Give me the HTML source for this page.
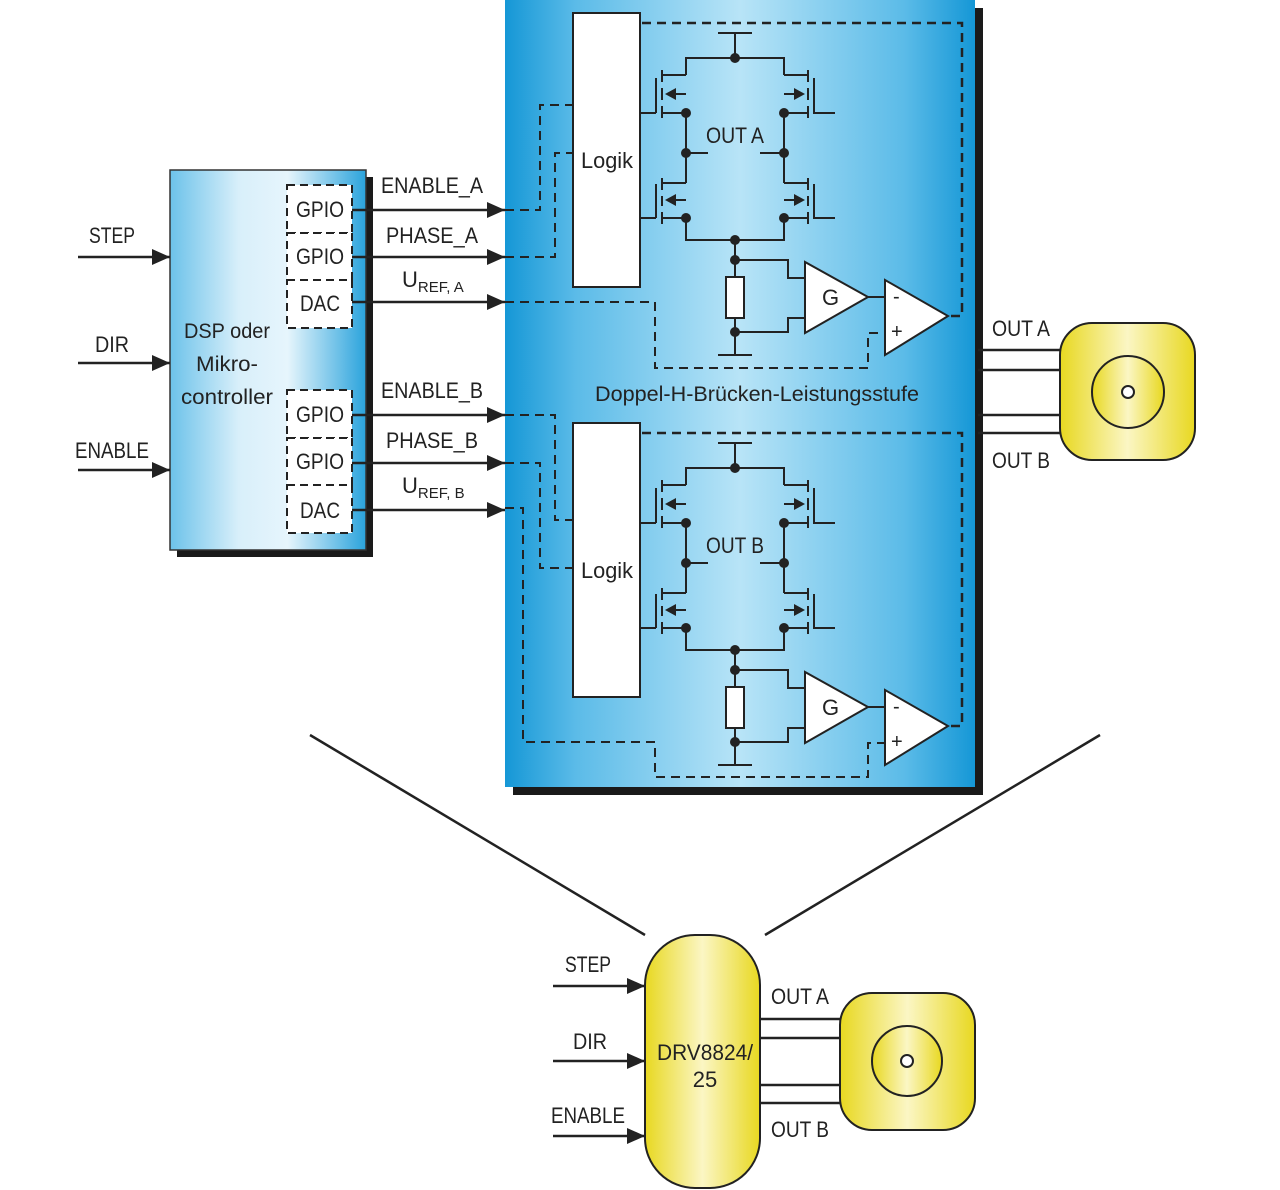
<!DOCTYPE html>
<html><head><meta charset="utf-8"><style>
html,body{margin:0;padding:0;background:#fff;width:1280px;height:1190px;overflow:hidden}
svg{display:block}
text{font-family:"Liberation Sans Narrow","Liberation Sans",sans-serif;fill:#222}
</style></head><body>
<svg width="1280" height="1190" viewBox="0 0 1280 1190" xmlns="http://www.w3.org/2000/svg">
<defs>
<linearGradient id="bl" x1="0" x2="1" y1="0" y2="0">
<stop offset="0" stop-color="#1597d6"/><stop offset="0.15" stop-color="#5bbbe8"/><stop offset="0.5" stop-color="#b8e4f7"/><stop offset="0.85" stop-color="#5bbbe8"/><stop offset="1" stop-color="#1597d6"/></linearGradient>
<linearGradient id="dsp" x1="0" x2="1" y1="0" y2="0">
<stop offset="0" stop-color="#6cc2ea"/><stop offset="0.35" stop-color="#d8effa"/><stop offset="0.6" stop-color="#e6f5fc"/><stop offset="1" stop-color="#2aa3dc"/></linearGradient>
<linearGradient id="ye" x1="0" x2="1" y1="0" y2="0">
<stop offset="0" stop-color="#e8d820"/><stop offset="0.5" stop-color="#fbf6c4"/><stop offset="1" stop-color="#e8d820"/></linearGradient>
<marker id="ar" markerWidth="18" markerHeight="16" refX="18" refY="8" orient="auto" markerUnits="userSpaceOnUse" viewBox="0 0 18 16"><path d="M0,0 L18,8 L0,16 z" fill="#222"/></marker>
<g id="ch">
<rect x="573" y="13" width="67" height="274" fill="#fff" stroke="#222" stroke-width="2"/>
<text x="607" y="168" font-size="22" text-anchor="middle" textLength="52" lengthAdjust="spacingAndGlyphs">Logik</text>
<g fill="none" stroke="#222" stroke-width="2">
<path d="M718,33 H752 M735,33 V58 M686,75 V58 H784 V75"/>
<path d="M686,75 H662 M686,113 H662 M662,70 V82 M662,88 V100 M662,106 V118 M656,78 V113 M640,113 H656"/>
<path d="M784,75 H808 M784,113 H808 M808,70 V82 M808,88 V100 M808,106 V118 M814,78 V113 H835"/>
<path d="M686,94 H672 M784,94 H798"/>
<path d="M686,113 V183 M784,113 V183 M686,153 H708 M760,153 H784"/>
<path d="M686,183 H662 M686,218 H662 M662,178 V190 M662,196 V206 M662,212 V224 M656,184 V218 M640,218 H656"/>
<path d="M784,183 H808 M784,218 H808 M808,178 V190 M808,196 V206 M808,212 V224 M814,184 V218 H835"/>
<path d="M686,200 H672 M784,200 H798"/>
<path d="M686,218 V240 H784 V218 M735,240 V277 M735,260 H788 V278 H805"/>
<rect x="726" y="277" width="18" height="41" fill="#fff"/>
<path d="M735,318 V355 M718,355 H752 M735,332 H788 V318 H805"/>
<path d="M805,262 L805,333 L868,297 Z M885,280 L885,355 L948,316 Z" fill="#fff"/>
<path d="M868,297 H885"/>
<path d="M642,23 H962 V316 H948" stroke-dasharray="9,6" stroke-width="2.5"/>
</g>
<path d="M665,94 l11,-6 v12z M665,200 l11,-6 v12z M805,94 l-11,-6 v12z M805,200 l-11,-6 v12z" fill="#222"/>
<g fill="#222"><circle cx="735" cy="58" r="5"/><circle cx="686" cy="113" r="5"/><circle cx="784" cy="113" r="5"/><circle cx="686" cy="153" r="5"/><circle cx="784" cy="153" r="5"/><circle cx="686" cy="218" r="5"/><circle cx="784" cy="218" r="5"/><circle cx="735" cy="240" r="5"/><circle cx="735" cy="260" r="5"/><circle cx="735" cy="332" r="5"/></g>
<text x="822" y="305" font-size="22">G</text>
<text x="893" y="303" font-size="20">-</text>
<text x="891" y="338" font-size="20">+</text>
</g>
</defs>

<!-- blue block -->
<rect x="513" y="8" width="470" height="787" fill="#1a1a1a"/>
<rect x="505" y="0" width="470" height="787" fill="url(#bl)"/>
<use href="#ch"/>
<use href="#ch" transform="translate(0,410)"/>
<text x="735" y="143" font-size="22" text-anchor="middle" textLength="58" lengthAdjust="spacingAndGlyphs">OUT A</text>
<text x="735" y="553" font-size="22" text-anchor="middle" textLength="58" lengthAdjust="spacingAndGlyphs">OUT B</text>
<text x="757" y="401" font-size="21" text-anchor="middle" textLength="324" lengthAdjust="spacingAndGlyphs">Doppel-H-Brücken-Leistungsstufe</text>

<!-- channel input dashed -->
<g fill="none" stroke="#222" stroke-width="2" stroke-dasharray="9,6">
<path d="M505,210 H540 V105 H573"/>
<path d="M505,257 H555 V153 H573"/>
<path d="M505,302 H655 V368 H868 V333 H885"/>
<path d="M505,415 H555 V520 H573"/>
<path d="M505,463 H540 V568 H573"/>
<path d="M505,508 H523 V742 H655 V777 H868 V743 H885"/>
</g>

<!-- DSP -->
<rect x="177" y="177" width="196" height="380" fill="#1a1a1a"/>
<rect x="170" y="170" width="196" height="380" fill="url(#dsp)" stroke="#333" stroke-width="1.5"/>
<g font-size="21" text-anchor="middle" lengthAdjust="spacingAndGlyphs">
<text x="227" y="338" textLength="86" lengthAdjust="spacingAndGlyphs">DSP oder</text>
<text x="227" y="371" textLength="62" lengthAdjust="spacingAndGlyphs">Mikro-</text>
<text x="227" y="404" textLength="92" lengthAdjust="spacingAndGlyphs">controller</text>
</g>
<g fill="#fff" stroke="#222" stroke-width="2" stroke-dasharray="8,5">
<rect x="287" y="185" width="65" height="48"/><rect x="287" y="233" width="65" height="47"/><rect x="287" y="280" width="65" height="48"/>
<rect x="287" y="390" width="65" height="48"/><rect x="287" y="438" width="65" height="47"/><rect x="287" y="485" width="65" height="48"/>
</g>
<g font-size="22" text-anchor="middle">
<text x="320" y="217" textLength="48" lengthAdjust="spacingAndGlyphs">GPIO</text><text x="320" y="264" textLength="48" lengthAdjust="spacingAndGlyphs">GPIO</text><text x="320" y="311" textLength="40" lengthAdjust="spacingAndGlyphs">DAC</text>
<text x="320" y="422" textLength="48" lengthAdjust="spacingAndGlyphs">GPIO</text><text x="320" y="469" textLength="48" lengthAdjust="spacingAndGlyphs">GPIO</text><text x="320" y="518" textLength="40" lengthAdjust="spacingAndGlyphs">DAC</text>
</g>
<g stroke="#222" stroke-width="2.5" marker-end="url(#ar)">
<line x1="352" y1="210" x2="505" y2="210"/><line x1="352" y1="257" x2="505" y2="257"/><line x1="352" y1="302" x2="505" y2="302"/>
<line x1="352" y1="415" x2="505" y2="415"/><line x1="352" y1="463" x2="505" y2="463"/><line x1="352" y1="510" x2="505" y2="510"/>
<line x1="78" y1="257" x2="170" y2="257"/><line x1="78" y1="363" x2="170" y2="363"/><line x1="78" y1="470" x2="170" y2="470"/>
</g>
<g font-size="22" text-anchor="middle">
<text x="432" y="193" textLength="102" lengthAdjust="spacingAndGlyphs">ENABLE_A</text><text x="432" y="243" textLength="92" lengthAdjust="spacingAndGlyphs">PHASE_A</text>
<text x="432" y="398" textLength="102" lengthAdjust="spacingAndGlyphs">ENABLE_B</text><text x="432" y="448" textLength="92" lengthAdjust="spacingAndGlyphs">PHASE_B</text>
<text x="112" y="243" textLength="46" lengthAdjust="spacingAndGlyphs">STEP</text><text x="112" y="352" textLength="34" lengthAdjust="spacingAndGlyphs">DIR</text><text x="112" y="458" textLength="74" lengthAdjust="spacingAndGlyphs">ENABLE</text>
</g>
<text x="402" y="287" font-size="22">U<tspan font-size="15" dy="5">REF, A</tspan></text>
<text x="402" y="493" font-size="22">U<tspan font-size="15" dy="5">REF, B</tspan></text>

<!-- motor top -->
<g stroke="#222" stroke-width="2.5">
<line x1="978" y1="350" x2="1060" y2="350"/><line x1="978" y1="370" x2="1060" y2="370"/>
<line x1="978" y1="415" x2="1060" y2="415"/><line x1="978" y1="433" x2="1060" y2="433"/>
</g>
<rect x="1060" y="323" width="135" height="137" rx="32" fill="url(#ye)" stroke="#222" stroke-width="2"/>
<circle cx="1128" cy="392" r="36" fill="url(#ye)" stroke="#222" stroke-width="2"/>
<circle cx="1128" cy="392" r="6" fill="#fff" stroke="#222" stroke-width="2"/>
<text x="1021" y="336" font-size="22" text-anchor="middle" textLength="58" lengthAdjust="spacingAndGlyphs">OUT A</text>
<text x="1021" y="468" font-size="22" text-anchor="middle" textLength="58" lengthAdjust="spacingAndGlyphs">OUT B</text>

<!-- funnel lines -->
<g stroke="#222" stroke-width="2.5">
<line x1="310" y1="735" x2="645" y2="935"/><line x1="1100" y1="735" x2="765" y2="935"/>
</g>

<!-- bottom -->
<rect x="645" y="935" width="115" height="253" rx="50" fill="url(#ye)" stroke="#222" stroke-width="2"/>
<text x="705" y="1060" font-size="22" text-anchor="middle" textLength="96" lengthAdjust="spacingAndGlyphs">DRV8824/</text>
<text x="705" y="1087" font-size="22" text-anchor="middle">25</text>
<g stroke="#222" stroke-width="2.5" marker-end="url(#ar)">
<line x1="553" y1="986" x2="645" y2="986"/><line x1="553" y1="1061" x2="645" y2="1061"/><line x1="553" y1="1136" x2="645" y2="1136"/>
</g>
<g font-size="22" text-anchor="middle">
<text x="588" y="972" textLength="46" lengthAdjust="spacingAndGlyphs">STEP</text><text x="590" y="1049" textLength="34" lengthAdjust="spacingAndGlyphs">DIR</text><text x="588" y="1123" textLength="74" lengthAdjust="spacingAndGlyphs">ENABLE</text>
<text x="800" y="1004" textLength="58" lengthAdjust="spacingAndGlyphs">OUT A</text><text x="800" y="1137" textLength="58" lengthAdjust="spacingAndGlyphs">OUT B</text>
</g>
<g stroke="#222" stroke-width="2.5">
<line x1="760" y1="1019" x2="840" y2="1019"/><line x1="760" y1="1038" x2="840" y2="1038"/>
<line x1="760" y1="1085" x2="840" y2="1085"/><line x1="760" y1="1103" x2="840" y2="1103"/>
</g>
<rect x="840" y="993" width="135" height="137" rx="32" fill="url(#ye)" stroke="#222" stroke-width="2"/>
<circle cx="907" cy="1061" r="35" fill="url(#ye)" stroke="#222" stroke-width="2"/>
<circle cx="907" cy="1061" r="6" fill="#fff" stroke="#222" stroke-width="2"/>
</svg>
</body></html>
